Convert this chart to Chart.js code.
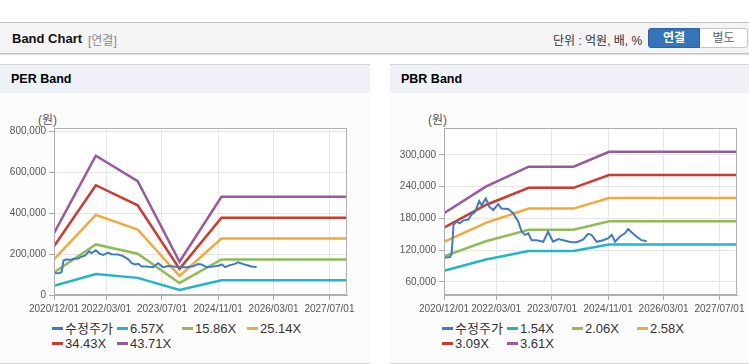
<!DOCTYPE html>
<html lang="ko">
<head>
<meta charset="utf-8">
<title>Band Chart</title>
<script src="https://cdn.jsdelivr.net/npm/chart.js@4.4.1/dist/chart.umd.min.js"></script>
<style>
body { margin:0; width:749px; height:364px; overflow:hidden; background:#fff; position:relative;
  font-family:"Liberation Sans","Noto Sans CJK KR",sans-serif; }
.top { position:absolute; left:0; top:22px; width:749px; height:30px; background:#f4f4f4;
  border-top:1px solid #c2c2c2; border-bottom:1px solid #c2c2c2; box-shadow:0 1px 1px #e2e2e2; }
.top .ttl { position:absolute; left:12px; top:8px; font-size:13px; font-weight:bold; color:#111; }
.top .sub { position:absolute; left:88px; top:8px; font-size:12px; color:#8a8a8a; }
.top .unit { position:absolute; left:553px; top:8px; font-size:12px; color:#333; }
.btn { position:absolute; top:5px; height:20px; line-height:18px; font-size:12px; text-align:center; box-sizing:border-box; }
.btn.on { left:648px; width:52px; background:#3574b8; color:#fff; font-weight:bold; border:1px solid #2b62a0; border-radius:3px 0 0 3px; }
.btn.off { left:700px; width:48px; background:#fff; color:#666; border:1px solid #c6c6c6; border-left:none; border-radius:0 3px 3px 0; }
.panel { position:absolute; top:64px; height:298px; background:#fcfcfc; border-top:1px solid #d6d6d6; border-bottom:1px solid #d6d6d6; }
.panel .head { height:28px; background:#eef2f7; font-size:12.5px; font-weight:bold; line-height:29px; padding-left:11px; color:#000; }
.won { position:absolute; top:110px; font-size:12px; color:#555; }
.box { position:absolute; top:100px; height:215px; }
.legend { position:absolute; top:321px; display:grid; grid-template-columns:repeat(4, 65px); row-gap:0; font-size:13px; color:#333; }
.legend div { height:15px; line-height:15px; white-space:nowrap; }
.legend i { display:inline-block; width:11px; height:3px; vertical-align:middle; margin-right:2px; position:relative; top:-1px; }
</style>
</head>
<body>
<div class="top">
  <span class="ttl">Band Chart</span><span class="sub">[연결]</span>
  <span class="unit">단위 : 억원, 배, %</span>
  <span class="btn on">연결</span><span class="btn off">별도</span>
</div>

<div class="panel" style="left:0;width:370px"><div class="head">PER Band</div></div>
<div class="panel" style="left:390px;width:359px"><div class="head">PBR Band</div></div>

<div class="won" style="left:38px">(원)</div>
<div class="won" style="left:428px">(원)</div>

<div class="box" style="left:0;width:370px"><canvas id="per"></canvas></div>
<div class="box" style="left:390px;width:359px"><canvas id="pbr"></canvas></div>

<div class="legend" id="perLegend" style="left:52px"></div>
<div class="legend" id="pbrLegend" style="left:442px"></div>

<script>
// 수정주가 (both charts)
const priceDates = ['2020/12/01','2021/01/22','2021/02/06','2021/02/22','2021/03/19','2021/04/19','2021/05/16',
  '2021/07/01','2021/07/28','2021/08/28','2021/10/04','2021/10/25','2021/12/01','2022/01/01','2022/02/04',
  '2022/03/19','2022/04/16','2022/06/13','2022/07/28','2022/09/10','2022/10/10','2022/11/07','2022/12/07',
  '2023/01/04','2023/02/18','2023/04/16','2023/05/28','2023/07/10','2023/08/25','2023/10/07','2023/12/19',
  '2024/02/01','2024/03/28','2024/05/10','2024/06/10','2024/07/25','2024/09/19','2024/11/04','2024/12/04',
  '2025/01/01','2025/02/13','2025/03/28','2025/04/25','2025/05/25','2025/07/07','2025/08/19','2025/10/04'];
const price = [106000,107000,114000,168000,174000,171000,176000,178000,187000,192000,213000,205000,218000,
  202000,196000,207000,199000,198000,190000,174000,155000,149000,152000,139000,139000,136000,155000,136000,
  141000,139000,135000,135000,140000,151000,149000,136000,139000,143000,149000,136000,146000,152000,160000,
  154000,146000,139000,137000];

// PER band
const perDates = ['2020/12/01','2021/12/01','2022/12/01','2023/12/01','2024/12/01','2027/12/01'];
const perLabels = ['6.57X','15.86X','25.14X','34.43X','43.71X'];
const per657 = [45400, 102200, 83600, 24400, 72000, 72000];
const per1586 = [109600, 246800, 201700, 58800, 173800, 173800];
const per2514 = [173700, 391200, 319800, 93300, 275500, 275500];
const per3443 = [237900, 535700, 437900, 127700, 377400, 377400];
const per4371 = [302000, 680100, 556000, 162200, 479100, 479100];

// PBR band
const pbrDates = ['2020/12/01','2021/12/01','2022/12/10','2024/01/05','2024/11/10','2027/12/01'];
const pbrLabels = ['1.54X','2.06X','2.58X','3.09X','3.61X'];
const pbr154 = [81000, 102400, 118600, 118600, 130600, 130600];
const pbr206 = [108400, 137000, 158600, 158600, 174700, 174700];
const pbr258 = [135700, 171600, 198700, 198700, 218800, 218800];
const pbr309 = [162500, 205500, 237900, 237900, 262000, 262000];
const pbr361 = [189900, 240100, 278000, 278000, 306100, 306100];

// x axis
const tickDates = ['2020/12/01','2022/03/01','2023/07/01','2024/11/01','2026/03/01','2027/07/01'];
const axisEnd = '2027/12/01';

const colors = ['#3d7cc9','#22b5c9','#8fbc55','#f3a93a','#d0392b','#985a9f'];

function day(s) {
  const p = s.split('/').map(Number);
  return (Date.UTC(p[0], p[1] - 1, p[2]) - Date.UTC(2020, 11, 1)) / 864e5;
}
function pts(dates, vals) {
  return dates.map((d, i) => ({ x: day(d), y: vals[i] }));
}

const frame = {
  id: 'frame',
  beforeDraw(chart) {
    const a = chart.chartArea, ctx = chart.ctx;
    ctx.save();
    ctx.fillStyle = '#fff';
    ctx.fillRect(a.left, a.top, a.right - a.left, a.bottom - a.top);
    ctx.restore();
  },
  afterDraw(chart) {
    const a = chart.chartArea, ctx = chart.ctx;
    ctx.save();
    ctx.strokeStyle = '#b0b0b0';
    ctx.lineWidth = 1;
    ctx.strokeRect(Math.round(a.left) + 0.5, Math.round(a.top) + 0.5,
      Math.round(a.right - a.left) - 1, Math.round(a.bottom - a.top) - 1);
    ctx.restore();
  }
};

function bandChart(id, legendId, bandDates, labels, bands, yMin, yMax, yTicks, padRight) {
  const datasets = [{ label: '수정주가', data: pts(priceDates, price) }];
  bands.forEach((b, i) => datasets.push({ label: labels[i], data: pts(bandDates, b) }));
  datasets.forEach((d, i) => {
    d.borderColor = colors[i];
    d.backgroundColor = colors[i];
    d.borderWidth = i === 0 ? 2 : 2.5;
    d.pointRadius = 0;
    d.tension = 0;
    d.fill = false;
  });

  const chart = new Chart(document.getElementById(id), {
    type: 'line',
    data: { datasets: datasets },
    plugins: [frame],
    options: {
      responsive: true,
      maintainAspectRatio: false,
      animation: false,
      layout: { padding: { left: 0, right: padRight, top: 28, bottom: 0 } },
      plugins: { legend: { display: false }, tooltip: { enabled: false } },
      scales: {
        x: {
          type: 'linear',
          min: 0,
          max: day(axisEnd),
          afterBuildTicks: ax => { ax.ticks = tickDates.map(d => ({ value: day(d) })); },
          afterFit: ax => { ax.height = 20; },
          ticks: {
            autoSkip: false, maxRotation: 0, padding: 3,
            color: '#555', font: { size: 10, family: 'Liberation Sans' },
            callback: (v, i) => tickDates[i]
          },
          grid: { color: '#e6e6e6', tickColor: '#aaa', tickLength: 5 },
          border: { color: '#b0b0b0' }
        },
        y: {
          min: yMin,
          max: yMax,
          afterBuildTicks: ax => { ax.ticks = yTicks.map(v => ({ value: v })); },
          afterFit: ax => { ax.width = 54; },
          ticks: {
            padding: 3, color: '#555', font: { size: 10, family: 'Liberation Sans' },
            callback: v => v.toLocaleString('en-US')
          },
          grid: { color: '#e6e6e6', tickColor: '#aaa', tickLength: 5 },
          border: { color: '#b0b0b0' }
        }
      }
    }
  });

  const lg = document.getElementById(legendId);
  chart.data.datasets.forEach(d => {
    const item = document.createElement('div');
    const mark = document.createElement('i');
    mark.style.background = d.borderColor;
    item.appendChild(mark);
    item.appendChild(document.createTextNode(d.label));
    lg.appendChild(item);
  });
}

bandChart('per', 'perLegend', perDates, perLabels,
  [per657, per1586, per2514, per3443, per4371],
  0, 815000, [0, 200000, 400000, 600000, 800000], 23);

bandChart('pbr', 'pbrLegend', pbrDates, pbrLabels,
  [pbr154, pbr206, pbr258, pbr309, pbr361],
  35400, 351000, [60000, 120000, 180000, 240000, 300000], 12);
</script>
</body>
</html>
